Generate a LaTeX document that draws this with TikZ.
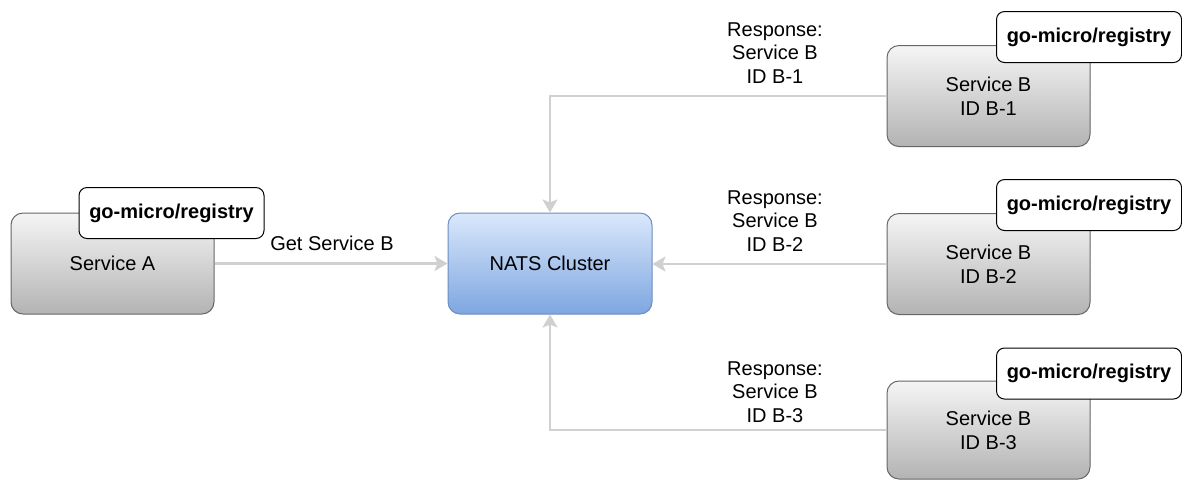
\documentclass[tikz,border=0pt]{standalone}
\usepackage{fontspec}
\setmainfont{Liberation Sans}
\usepackage{xcolor}
\usetikzlibrary{arrows.meta}

\definecolor{linkgray}{HTML}{D0D0D0}
\definecolor{boxedge}{HTML}{666666}
\definecolor{boxtop}{HTML}{F5F5F5}
\definecolor{boxbottom}{HTML}{B3B3B3}
\definecolor{natsedge}{HTML}{6C8EBF}
\definecolor{natstop}{HTML}{DAE8FC}
\definecolor{natsbottom}{HTML}{7EA6E0}

\begin{document}
\begin{tikzpicture}[x=0.5pt, y=-0.5pt,
    every node/.style={font=\fontsize{10}{12}\selectfont, inner sep=0pt},
    service/.style={draw=boxedge, line width=0.5pt, rounded corners=6pt,
      top color=boxtop, bottom color=boxbottom, align=center,
      minimum width=101.5pt, minimum height=50.5pt},
    natsbox/.style={draw=natsedge, line width=0.5pt, rounded corners=6pt,
      top color=natstop, bottom color=natsbottom,
      minimum width=102pt, minimum height=50.5pt},
    regtag/.style={draw=black, fill=white, line width=0.5pt, rounded corners=4pt,
      font=\fontsize{10}{12}\selectfont\bfseries,
      minimum width=92.5pt, minimum height=25.5pt},
    lbl/.style={align=center, font=\fontsize{10}{11.75}\selectfont},
    link/.style={draw=linkgray, line width=1.2pt,
      -{Stealth[length=6.5pt, width=7.5pt, inset=1.5pt]}}]
  % page size
  \useasboundingbox (0,0) rectangle (1182,479);

  % service A and the cluster
  \node[service] (sa) at (112.5,263.5) {Service A};
  \node[regtag] (taga) at (171.5,213) {go-micro/registry};
  \node[natsbox] (nats) at (550,263.5) {NATS Cluster};

  % instances of service B
  \node[service] (b1) at (988.5,96) {Service B\\ID B-1};
  \node[regtag] (tag1) at (1089,37) {go-micro/registry};
  \node[service] (b2) at (988.5,264) {Service B\\ID B-2};
  \node[regtag] (tag2) at (1089,205) {go-micro/registry};
  \node[service, minimum height=49pt] (b3) at (988.5,430) {Service B\\ID B-3};
  \node[regtag] (tag3) at (1089,373.5) {go-micro/registry};

  % requests and responses
  \draw[link] (sa) -- (nats);
  \draw[link] (b1.west) -| (nats.north);
  \draw[link] (b2.west) -- (b2.west -| nats.east);
  \draw[link] (b3.west) -| (nats.south);

  \node[lbl] (get) at (332,243) {Get Service B};
  \node[lbl] (r1) at (775,53) {Response:\\Service B\\ID B-1};
  \node[lbl] (r2) at (775,221) {Response:\\Service B\\ID B-2};
  \node[lbl] (r3) at (775,392) {Response:\\Service B\\ID B-3};
\end{tikzpicture}
\end{document}
